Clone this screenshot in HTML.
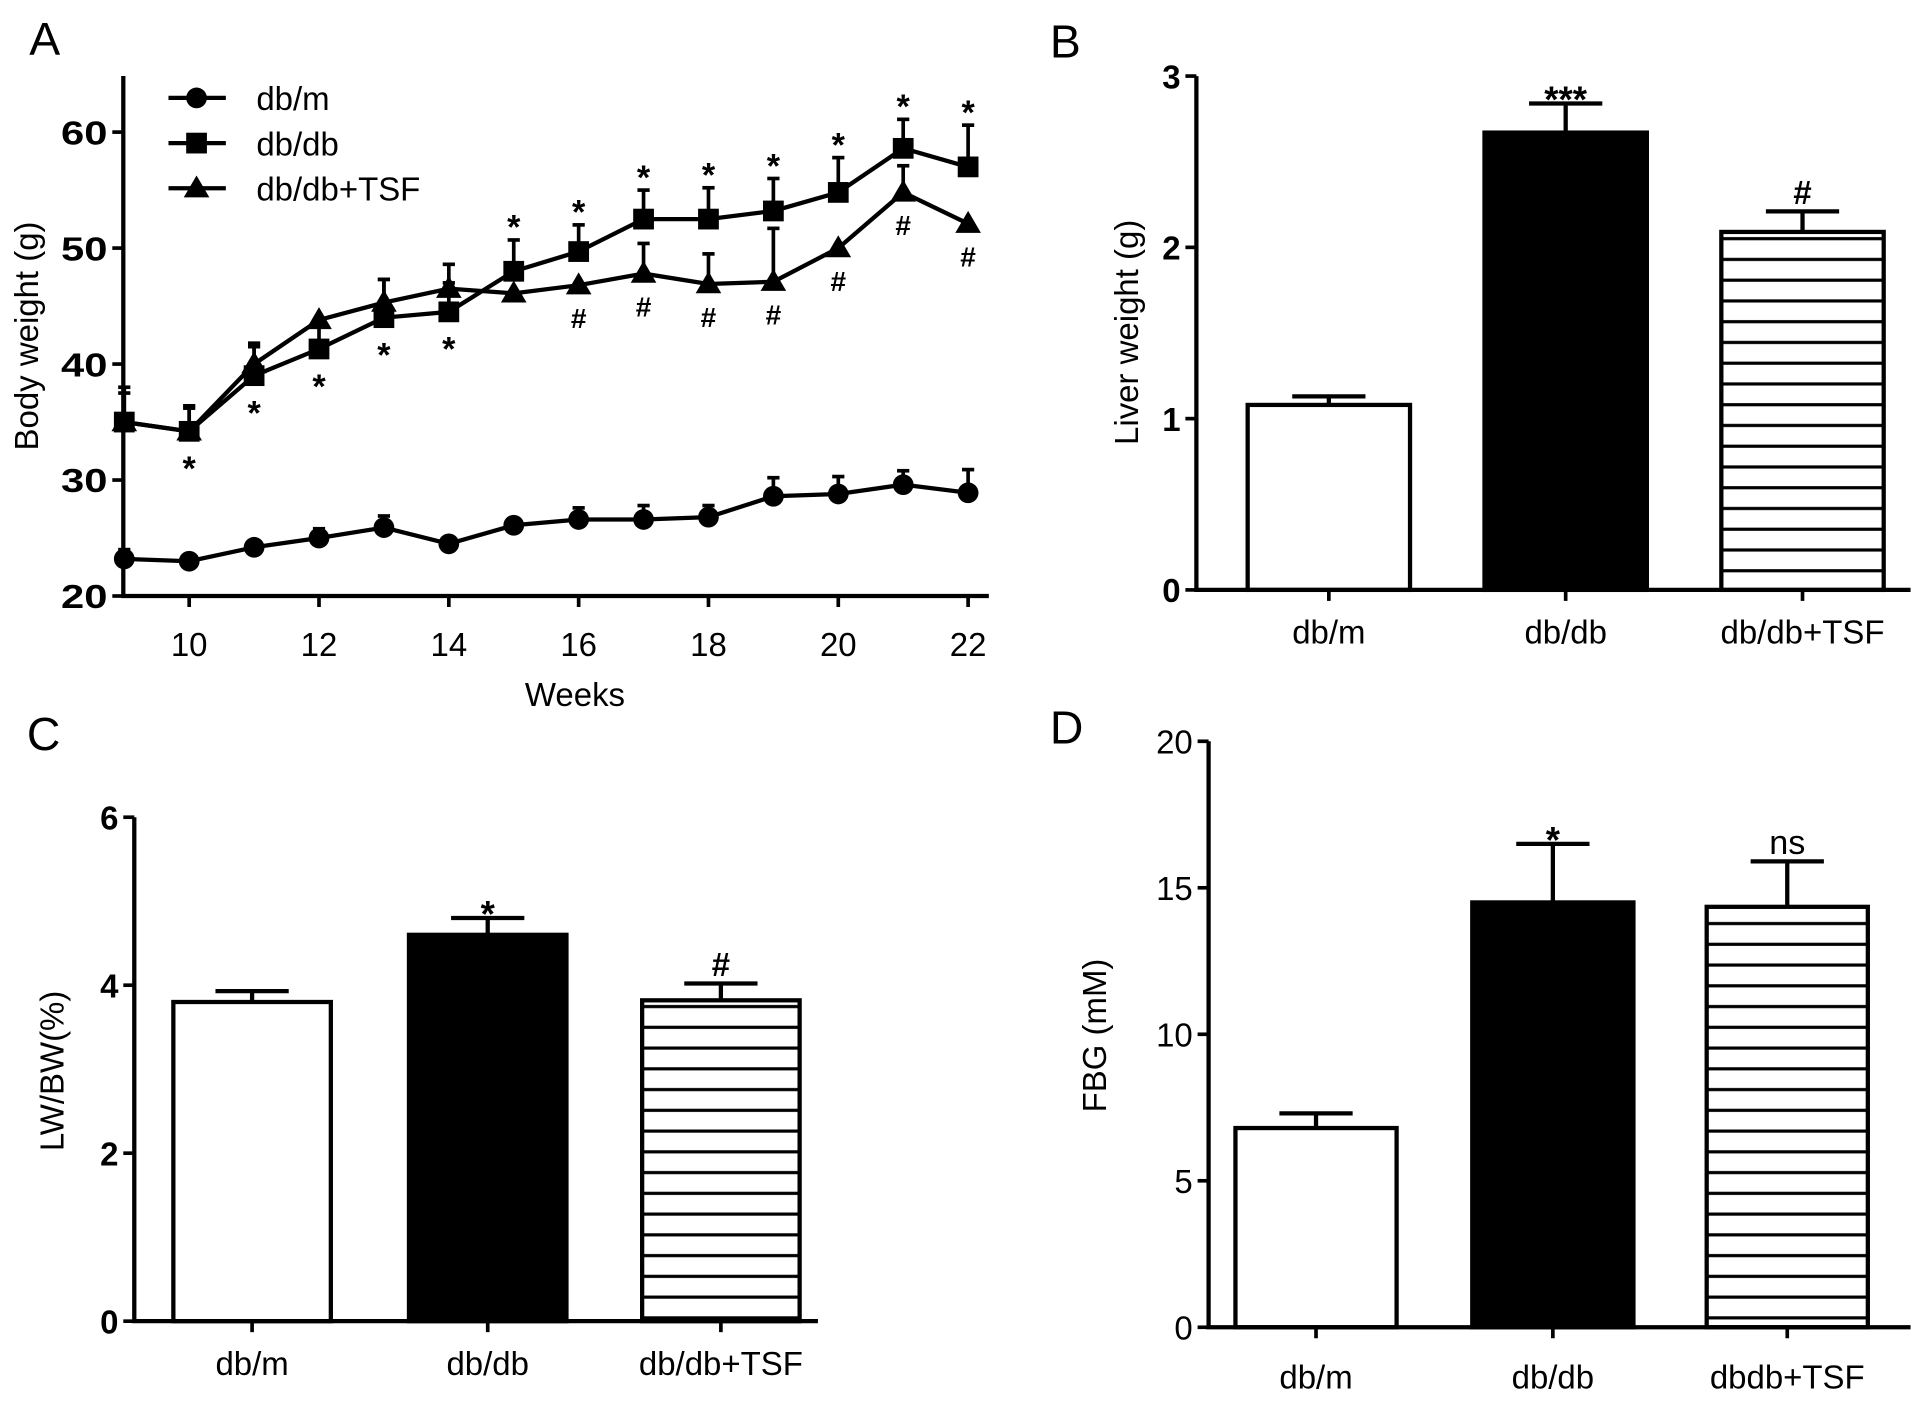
<!DOCTYPE html>
<html><head><meta charset="utf-8"><style>
html,body{margin:0;padding:0;background:#fff;}
svg{display:block;}
text{font-family:"Liberation Sans",Arial,sans-serif;fill:#000;}
.tk{font-weight:bold;font-size:27px;}
.xl{font-size:27px;}
</style></head><body>
<svg id="fig" width="1913" height="1402" viewBox="0 0 1567 1148" xmlns="http://www.w3.org/2000/svg">
<defs>
<pattern id="hstripe" patternUnits="userSpaceOnUse" width="10" height="17"><rect width="10" height="17" fill="#fff"/><rect y="7" width="10" height="2.6" fill="#000"/></pattern>
</defs>
<g id="gA"></g>
<g id="gB"></g>
<g id="gC"></g>
<g id="gD"></g>
</svg>
<script>
const weeks=[9,10,11,12,13,14,15,16,17,18,19,20,21,22];
const dbmVals=[23.2,23,24.2,25,25.9,24.5,26.1,26.6,26.6,26.8,28.6,28.8,29.6,28.9];
const dbmErr=[0.8,0.4,0.4,0.8,1.0,0.4,0.4,1.0,1.2,1.0,1.6,1.5,1.2,2.0];
const dbdbVals=[35,34.2,39,41.3,44,44.5,48,49.7,52.5,52.5,53.2,54.8,58.6,57];
const dbdbErr=[2.5,2.2,2.5,2.5,3.3,2.5,2.7,2.3,2.5,2.7,2.8,3,2.5,3.6];
const tsfVals=[35,34.2,40,43.8,45.3,46.5,46.1,46.8,47.8,46.9,47.1,50,54.8,52.1];
const tsfErr=[3,2,1.8,0,2,2.1,0,0,2.6,2.6,4.6,0,2.3,0];
const starBelow=[10,11,12,13,14];
const starAbove=[15,16,17,18,19,20,21,22];
const hashBelow=[16,17,18,19,20,21,22];
const aTicksY=[20,30,40,50,60];
const aTicksX=[10,12,14,16,18,20,22];
const legendLabels=["db/m","db/db","db/db+TSF"];

const barCats=["db/m","db/db","db/db+TSF"];
const bVals=[1.08,2.67,2.09];
const bErr=[0.05,0.17,0.12];
const bTicks=[0,1,2,3];
const bMarks=["","***","#"];
const cVals=[3.8,4.6,3.82];
const cErr=[0.13,0.2,0.2];
const cTicks=[0,2,4,6];
const cMarks=["","*","#"];
const dCats=["db/m","db/db","dbdb+TSF"];
const dVals=[6.8,14.5,14.35];
const dErr=[0.5,2,1.55];
const dTicks=[0,5,10,15,20];
const dMarks=["","*","ns"];

const NS="http://www.w3.org/2000/svg";
function el(parent,tag,attrs,txt){const e=document.createElementNS(NS,tag);for(const k in attrs)e.setAttribute(k,attrs[k]);if(txt!==undefined)e.textContent=txt;parent.appendChild(e);return e;}

// ---------- Panel A ----------
(function(){
const g=document.getElementById('gA');
const X0=101.8,PXW=53.17,Y0=488,PXU=9.5;
const sx=w=>X0+(w-9)*PXW, sy=v=>Y0-(v-20)*PXU;
let t=el(g,'text',{x:24,y:45,'font-size':38},'A');


let ax=el(g,'path',{d:`M101,62 V${Y0} H810`,stroke:'#000','stroke-width':3.5,fill:'none'});


aTicksY.forEach(v=>{el(g,'line',{x1:92,x2:101,y1:sy(v),y2:sy(v),stroke:'#000','stroke-width':3});
 let tt=el(g,'text',{x:88,y:sy(v)+10,'text-anchor':'end',class:'tk',textLength:38,lengthAdjust:'spacingAndGlyphs'},v);
 
 });
aTicksX.forEach(w=>{el(g,'line',{x1:sx(w),x2:sx(w),y1:Y0,y2:Y0+9,stroke:'#000','stroke-width':3});
 let tt=el(g,'text',{x:sx(w),y:Y0+49,'text-anchor':'middle',class:'xl'},w);
 
 });
let yt=el(g,'text',{transform:'translate(31,275) rotate(-90)','text-anchor':'middle','font-size':27},'Body weight (g)');


let xt=el(g,'text',{x:471,y:578,'text-anchor':'middle','font-size':27},'Weeks');


function marker(p,type,x,y,s){
 if(type==='c') return el(p,'circle',{cx:x,cy:y,r:s*0.85,fill:'#000'});
 if(type==='s') return el(p,'rect',{x:x-s*0.85,y:y-s*0.85,width:s*1.7,height:s*1.7,fill:'#000'});
 return el(p,'polygon',{points:`${x},${y-s*1.05} ${x-s*1.05},${y+s*0.75} ${x+s*1.05},${y+s*0.75}`,fill:'#000'});
}
function series(vals,errs,type,name){
 const sg=el(g,'g',{});
 
 
 vals.forEach((v,i)=>{ if(errs[i]>0){const x=sx(weeks[i]);
  el(sg,'line',{x1:x,x2:x,y1:sy(v),y2:sy(v+errs[i]),stroke:'#000','stroke-width':3});
  el(sg,'line',{x1:x-5,x2:x+5,y1:sy(v+errs[i]),y2:sy(v+errs[i]),stroke:'#000','stroke-width':3});}});
 el(sg,'polyline',{points:vals.map((v,i)=>sx(weeks[i])+','+sy(v)).join(' '),fill:'none',stroke:'#000','stroke-width':3.5});
 vals.forEach((v,i)=>{const m=marker(sg,type,sx(weeks[i]),sy(v),10);
  
  });
}
series(dbmVals,dbmErr,'c','series-db-m');
series(tsfVals,tsfErr,'t','series-db-db-tsf');
series(dbdbVals,dbdbErr,'s','series-db-db');
starBelow.forEach(w=>{const i=weeks.indexOf(w);
 let s=el(g,'text',{x:sx(w),y:sy(Math.min(dbdbVals[i],tsfVals[i]))+40,'text-anchor':'middle','font-size':28,'font-weight':'bold'},'*');
 
 });
starAbove.forEach(w=>{const i=weeks.indexOf(w);
 let s=el(g,'text',{x:sx(w),y:sy(dbdbVals[i]+dbdbErr[i])-1,'text-anchor':'middle','font-size':28,'font-weight':'bold'},'*');
 
 });
hashBelow.forEach(w=>{const i=weeks.indexOf(w);
 let s=el(g,'text',{x:sx(w),y:sy(tsfVals[i])+35,'text-anchor':'middle','font-size':23,'font-weight':'bold'},'#');
 
 });
const types=['c','s','t'];
legendLabels.forEach((l,i)=>{const y=80+i*37;
 const lg=el(g,'g',{});
 
 
 el(lg,'line',{x1:138,x2:185,y1:y,y2:y,stroke:'#000','stroke-width':3.5});
 marker(lg,types[i],161,y,10);
 el(lg,'text',{x:210,y:y+10,'font-size':27},l);});
})();

// ---------- bar panels ----------
function barPanel(gid,opt){
 const g=document.getElementById(gid);
 const sy=v=>opt.y0-v*opt.pxu;
 let t=el(g,'text',{x:opt.lx,y:opt.ly,'font-size':38},opt.letter);
 
 
 opt.vals.forEach((v,i)=>{const x=opt.bx[i],w=opt.bw;
  const top=sy(v+opt.err[i]);
  el(g,'line',{x1:x+w/2,x2:x+w/2,y1:sy(v),y2:top,stroke:'#000','stroke-width':3.5});
  el(g,'line',{x1:x+w/2-30,x2:x+w/2+30,y1:top,y2:top,stroke:'#000','stroke-width':3.5});
  const fill=i===0?'#fff':(i===1?'#000':'url(#hstripe)');
  let r=el(g,'rect',{x:x,y:sy(v),width:w,height:opt.y0-sy(v),fill:fill,stroke:'#000','stroke-width':3.5});
  
  
  if(opt.marks[i]){let m=el(g,'text',{x:x+w/2,y:top-(opt.marks[i]==='#'?6:(opt.marks[i]==='ns'?6:-7)),'text-anchor':'middle','font-size':opt.marks[i]==='#'?27:(opt.marks[i]==='ns'?28:30),'font-weight':opt.marks[i]==='ns'?'normal':'bold'},opt.marks[i]);
   
   }
  el(g,'line',{x1:x+w/2,x2:x+w/2,y1:opt.y0,y2:opt.y0+9,stroke:'#000','stroke-width':3});
  let c=el(g,'text',{x:x+w/2,y:opt.catY,'text-anchor':'middle','font-size':27},opt.cats[i]);
  
  
 });
 let ax=el(g,'path',{d:`M${opt.ax},${sy(opt.ticks[opt.ticks.length-1])} V${opt.y0} H${opt.xend}`,stroke:'#000','stroke-width':3.5,fill:'none'});
 
 
 opt.ticks.forEach(v=>{el(g,'line',{x1:opt.ax-9,x2:opt.ax,y1:sy(v),y2:sy(v),stroke:'#000','stroke-width':3});
  let tt=el(g,'text',{x:opt.ax-13,y:sy(v)+10,'text-anchor':'end',class:opt.tickBold?'tk':'xl','font-size':opt.tickBold?27:29},v);
  
  });
 let yt=el(g,'text',{transform:`translate(${opt.ytx},${opt.yty}) rotate(-90)`,'text-anchor':'middle','font-size':27},opt.ytitle);
 
 
}
barPanel('gB',{letter:'B',lx:860,ly:47,vals:bVals,err:bErr,cats:barCats,marks:bMarks,ticks:bTicks,y0:483,pxu:140.3,ax:980,xend:1565,bx:[1022,1216,1410],bw:133,catY:527,ytitle:'Liver weight (g)',ytx:932,yty:272,tickBold:true});
barPanel('gC',{letter:'C',lx:22,ly:614,vals:cVals,err:cErr,cats:barCats,marks:cMarks,ticks:cTicks,y0:1082,pxu:68.8,ax:110,xend:670,bx:[142,335,526],bw:129,catY:1126,ytitle:'LW/BW(%)',ytx:52,yty:877,tickBold:true});
barPanel('gD',{letter:'D',lx:860,ly:609,vals:dVals,err:dErr,cats:dCats,marks:dMarks,ticks:dTicks,y0:1087,pxu:24,ax:990,xend:1565,bx:[1012,1206,1398],bw:132,catY:1137,ytitle:'FBG (mM)',ytx:906,yty:848,tickBold:false});
</script>
</body></html>
